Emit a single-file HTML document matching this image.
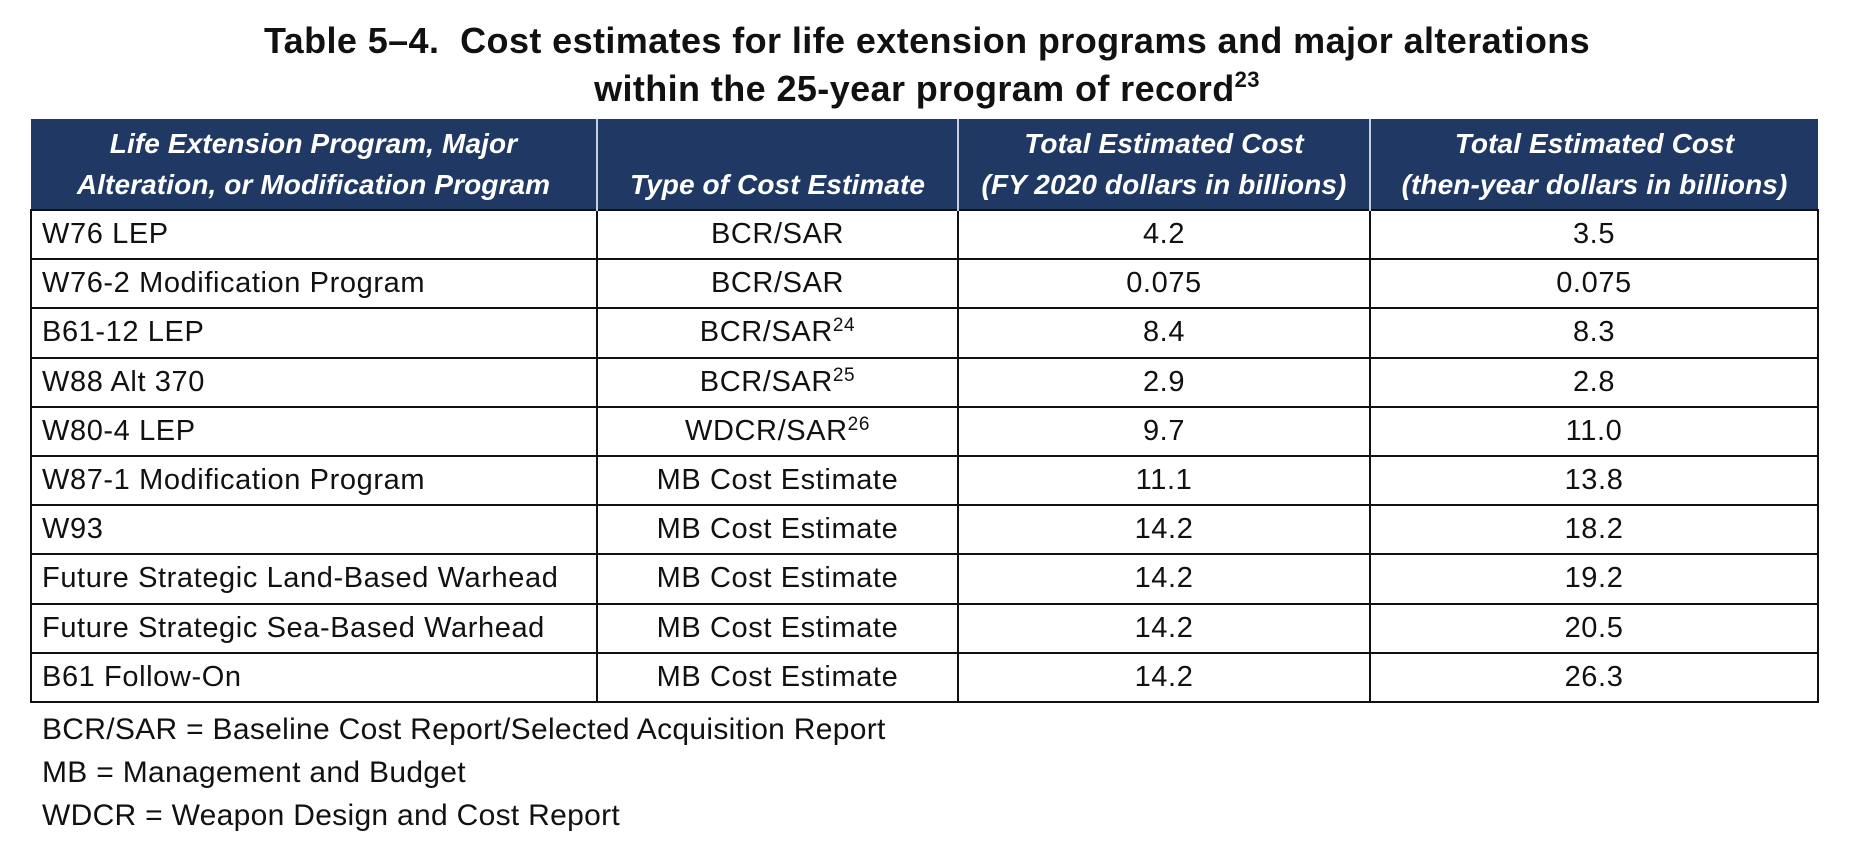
<!DOCTYPE html>
<html><head><meta charset="utf-8"><style>
body{margin:0;width:1854px;height:858px;background:#fff;font-family:"Liberation Sans",sans-serif;position:relative;overflow:hidden}
.title{position:absolute;left:0;width:1854px;text-align:center;font-weight:bold;font-size:36px;color:#111;letter-spacing:0.4px}
table{position:absolute;left:30px;top:119px;width:1787px;border-collapse:collapse;table-layout:fixed}
th{background:#1f3864;color:#fff;font-style:italic;font-weight:bold;font-size:28px;line-height:41px;height:86px;border-left:2px solid #c8d0e0;padding:0 0 4px 0;text-align:center;vertical-align:bottom;letter-spacing:0.1px}
th:first-child{border-left:none}
td{height:49.2px;border:2px solid #111;font-size:29px;text-align:center;padding:0;color:#111;box-sizing:border-box;letter-spacing:0.6px}
td:first-child{text-align:left;padding-left:10px}
sup{font-size:19px;vertical-align:10px;line-height:0}
.fn{position:absolute;left:42px;font-size:30px;color:#111;letter-spacing:0.3px}
</style></head><body>
<div class="title" style="top:20px">Table 5–4.&nbsp; Cost estimates for life extension programs and major alterations</div>
<div class="title" style="top:68px">within the 25-year program of record<sup style="font-size:22px;vertical-align:14px">23</sup></div>
<table>
<colgroup><col style="width:566px"><col style="width:361px"><col style="width:412px"><col style="width:448px"></colgroup>
<tr>
<th>Life Extension Program, Major<br>Alteration, or Modification Program</th>
<th>Type of Cost Estimate</th>
<th>Total Estimated Cost<br>(FY 2020 dollars in billions)</th>
<th>Total Estimated Cost<br>(then-year dollars in billions)</th>
</tr>
<tr><td>W76 LEP</td><td>BCR/SAR</td><td>4.2</td><td>3.5</td></tr>
<tr><td>W76-2 Modification Program</td><td>BCR/SAR</td><td>0.075</td><td>0.075</td></tr>
<tr><td>B61-12 LEP</td><td>BCR/SAR<sup>24</sup></td><td>8.4</td><td>8.3</td></tr>
<tr><td>W88 Alt 370</td><td>BCR/SAR<sup>25</sup></td><td>2.9</td><td>2.8</td></tr>
<tr><td>W80-4 LEP</td><td>WDCR/SAR<sup>26</sup></td><td>9.7</td><td>11.0</td></tr>
<tr><td>W87-1 Modification Program</td><td>MB Cost Estimate</td><td>11.1</td><td>13.8</td></tr>
<tr><td>W93</td><td>MB Cost Estimate</td><td>14.2</td><td>18.2</td></tr>
<tr><td>Future Strategic Land-Based Warhead</td><td>MB Cost Estimate</td><td>14.2</td><td>19.2</td></tr>
<tr><td>Future Strategic Sea-Based Warhead</td><td>MB Cost Estimate</td><td>14.2</td><td>20.5</td></tr>
<tr><td>B61 Follow-On</td><td>MB Cost Estimate</td><td>14.2</td><td>26.3</td></tr>
</table>
<div class="fn" style="top:713px">BCR/SAR = Baseline Cost Report/Selected Acquisition Report</div>
<div class="fn" style="top:756px">MB = Management and Budget</div>
<div class="fn" style="top:799px">WDCR = Weapon Design and Cost Report</div>
</body></html>
